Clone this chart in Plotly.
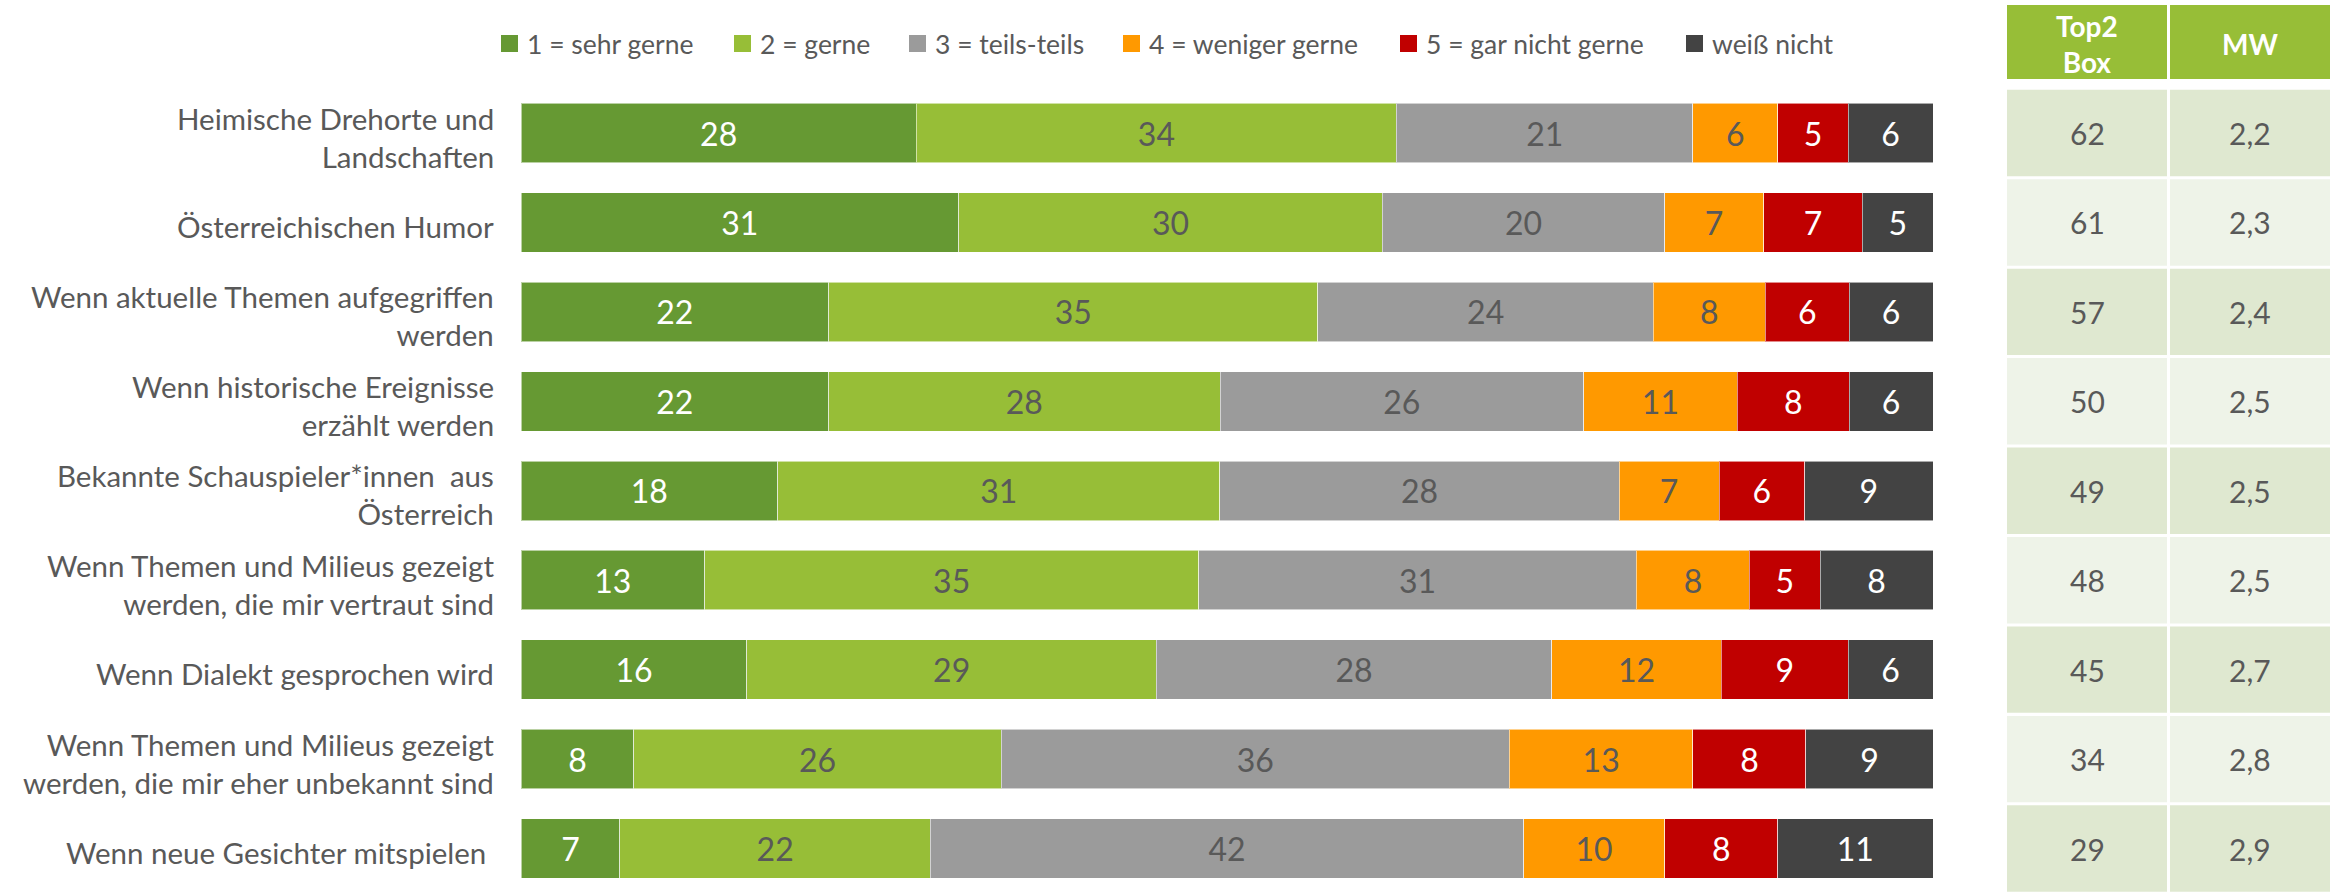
import plotly.graph_objects as go

# --- data -------------------------------------------------------------
categories = [
    "Heimische Drehorte und<br>Landschaften",
    "Österreichischen Humor",
    "Wenn aktuelle Themen aufgegriffen<br>werden",
    "Wenn historische Ereignisse<br>erzählt werden",
    "Bekannte Schauspieler*innen  aus<br>Österreich",
    "Wenn Themen und Milieus gezeigt<br>werden, die mir vertraut sind",
    "Wenn Dialekt gesprochen wird",
    "Wenn Themen und Milieus gezeigt<br>werden, die mir eher unbekannt sind",
    "Wenn neue Gesichter mitspielen ",
]

series_names = ["1 = sehr gerne", "2 = gerne", "3 = teils-teils",
                "4 = weniger gerne", "5 = gar nicht gerne", "weiß nicht"]

sehr_gerne = [28, 31, 22, 22, 18, 13, 16, 8, 7]
gerne = [34, 30, 35, 28, 31, 35, 29, 26, 22]
teils_teils = [21, 20, 24, 26, 28, 31, 28, 36, 42]
weniger_gerne = [6, 7, 8, 11, 7, 8, 12, 13, 10]
gar_nicht_gerne = [5, 7, 6, 8, 6, 5, 9, 8, 8]
weiss_nicht = [6, 5, 6, 6, 9, 8, 6, 9, 11]

top2_box = [62, 61, 57, 50, 49, 48, 45, 34, 29]
mittelwert = ["2,2", "2,3", "2,4", "2,5", "2,5", "2,5", "2,7", "2,8", "2,9"]
table_headers = ["Top2<br>Box", "MW"]

# --- styling ----------------------------------------------------------
W, H = 2336, 892
FONT = "Lato"
TEXT_GREY = "#595959"
colors = ["#669933", "#97BE37", "#9B9B9B", "#FF9900", "#C00000", "#434343"]
text_colors = ["white", TEXT_GREY, TEXT_GREY, TEXT_GREY, "white", "white"]
series_values = [sehr_gerne, gerne, teils_teils, weniger_gerne,
                 gar_nicht_gerne, weiss_nicht]

def px_x(p):
    return p / W

def px_y(p):
    return 1 - p / H

fig = go.Figure()

for name, vals, col, tcol in zip(series_names, series_values, colors, text_colors):
    fig.add_trace(go.Bar(
        name=name,
        y=categories,
        x=vals,
        orientation="h",
        marker=dict(color=col, line=dict(color="rgba(255,255,255,0.55)", width=1)),
        text=[str(v) for v in vals],
        textposition="inside",
        insidetextanchor="middle",
        textangle=0,
        textfont=dict(family=FONT, size=32, color=tcol),
        hovertemplate="%{y}<br>" + name + ": %{text}<extra></extra>",
        showlegend=False,
    ))

# category labels on the left
annotations = []
for cat in categories:
    annotations.append(dict(
        x=px_x(496), xref="paper", xanchor="right",
        y=cat, yref="y", yanchor="middle", yshift=-4,
        text=cat, showarrow=False, align="right",
        font=dict(family=FONT, size=29.5, color=TEXT_GREY),
    ))

# legend row drawn as squares with labels
legend_left = [501, 734, 909, 1123, 1400, 1686]
shapes = []
for name, col, x0 in zip(series_names, colors, legend_left):
    shapes.append(dict(type="rect", xref="paper", yref="paper",
                       x0=px_x(x0), x1=px_x(x0 + 17),
                       y0=px_y(52), y1=px_y(35),
                       fillcolor=col, line=dict(width=0)))
    annotations.append(dict(
        x=px_x(x0 + 24), xref="paper", xanchor="left",
        y=px_y(43.5), yref="paper", yanchor="middle",
        text=name, showarrow=False,
        font=dict(family=FONT, size=26.5, color=TEXT_GREY),
    ))

# side table: Top2 Box and MW
col_x = [(2007, 2167), (2170, 2330)]
HEADER_GREEN = "#97BE37"
for (x0, x1), head in zip(col_x, table_headers):
    shapes.append(dict(type="rect", xref="paper", yref="paper",
                       x0=px_x(x0), x1=px_x(x1), y0=px_y(79), y1=px_y(5),
                       fillcolor=HEADER_GREEN, line=dict(width=0)))
    annotations.append(dict(
        x=px_x((x0 + x1) / 2), xref="paper", xanchor="center",
        y=px_y(44), yref="paper", yanchor="middle",
        text="<b>" + head + "</b>", showarrow=False,
        font=dict(family=FONT, size=28, color="white"),
    ))

gap = 0.017
for i, (cat, t2, mw) in enumerate(zip(categories, top2_box, mittelwert)):
    fill = "#DFE8D0" if i % 2 == 0 else "#EEF3E8"
    for (x0, x1), val in zip(col_x, [str(t2), mw]):
        shapes.append(dict(type="rect", xref="paper", yref="y",
                           x0=px_x(x0), x1=px_x(x1),
                           y0=i - 0.5 + gap, y1=i + 0.5 - gap,
                           fillcolor=fill, line=dict(width=0), layer="below"))
        annotations.append(dict(
            x=px_x((x0 + x1) / 2), xref="paper", xanchor="center",
            y=cat, yref="y", yanchor="middle",
            text=val, showarrow=False,
            font=dict(family=FONT, size=30, color=TEXT_GREY),
        ))

fig.update_layout(
    width=W, height=H,
    margin=dict(l=0, r=0, t=0, b=0),
    paper_bgcolor="white", plot_bgcolor="white",
    barmode="stack", barnorm="percent", bargap=0.335,
    showlegend=False,
    xaxis=dict(domain=[px_x(521), px_x(1933)], range=[0, 100],
               visible=False, fixedrange=True),
    yaxis=dict(type="category", categoryorder="array", categoryarray=categories,
               range=[8.486, -1.487], visible=False, fixedrange=True),
    shapes=shapes,
    annotations=annotations,
    font=dict(family=FONT, color=TEXT_GREY),
)

fig.write_html("out.html")
